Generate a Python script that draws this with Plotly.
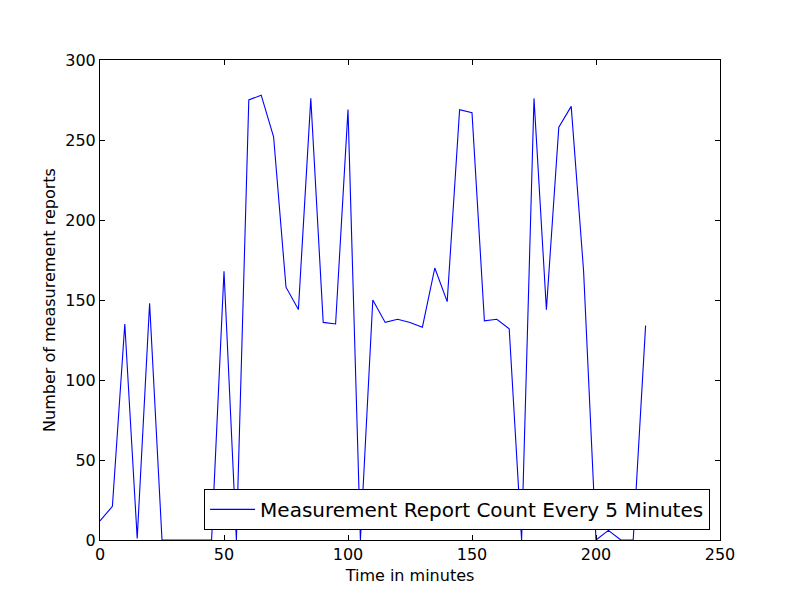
import plotly.graph_objects as go

minutes = list(range(0, 225, 5))
report_counts = [12, 21, 135, 1, 148, 0, 0, 0, 0, 0, 168, 0, 275, 278, 252, 158, 144, 276, 136, 135,
                 269, 0, 150, 136, 138, 136, 133, 170, 149, 269, 267, 137, 138, 132, 0, 276, 144, 258,
                 271, 168, 0, 6, 0, 0, 134]
series_name = "Measurement Report Count Every 5 Minutes"
x_ticks = [0, 50, 100, 150, 200, 250]
y_ticks = [0, 50, 100, 150, 200, 250, 300]

fig = go.Figure()
fig.add_trace(go.Scatter(x=minutes, y=report_counts, mode="lines", name=series_name,
                         line=dict(color="#0000ff", width=1.1), showlegend=True))

axis_common = dict(showline=True, linecolor="black", linewidth=1, mirror="ticks",
                   ticks="inside", ticklen=5, tickcolor="black", showgrid=False, zeroline=False,
                   automargin=False, tickfont=dict(size=16, color="black"))
fig.update_layout(
    width=800, height=600,
    margin=dict(l=100, r=80, t=60, b=60, autoexpand=False),
    plot_bgcolor="white", paper_bgcolor="white",
    font=dict(family="DejaVu Sans", color="black"),
    xaxis=dict(range=[0, 250], tickvals=x_ticks,
               title=dict(text="Time in minutes", font=dict(size=16), standoff=6), **axis_common),
    yaxis=dict(range=[0, 300], tickvals=y_ticks,
               title=dict(text="Number of measurement reports", font=dict(size=16), standoff=5), **axis_common),
    legend=dict(x=0.984, y=0.021, xanchor="right", yanchor="bottom", bgcolor="white",
                bordercolor="black", borderwidth=1, font=dict(size=20), itemwidth=45,
                entrywidth=532, entrywidthmode="pixels"),
    showlegend=True,
)
fig.write_html("out.html", config={"displayModeBar": False},
               post_script="document.body.style.margin='0';document.body.style.overflow='hidden';")
